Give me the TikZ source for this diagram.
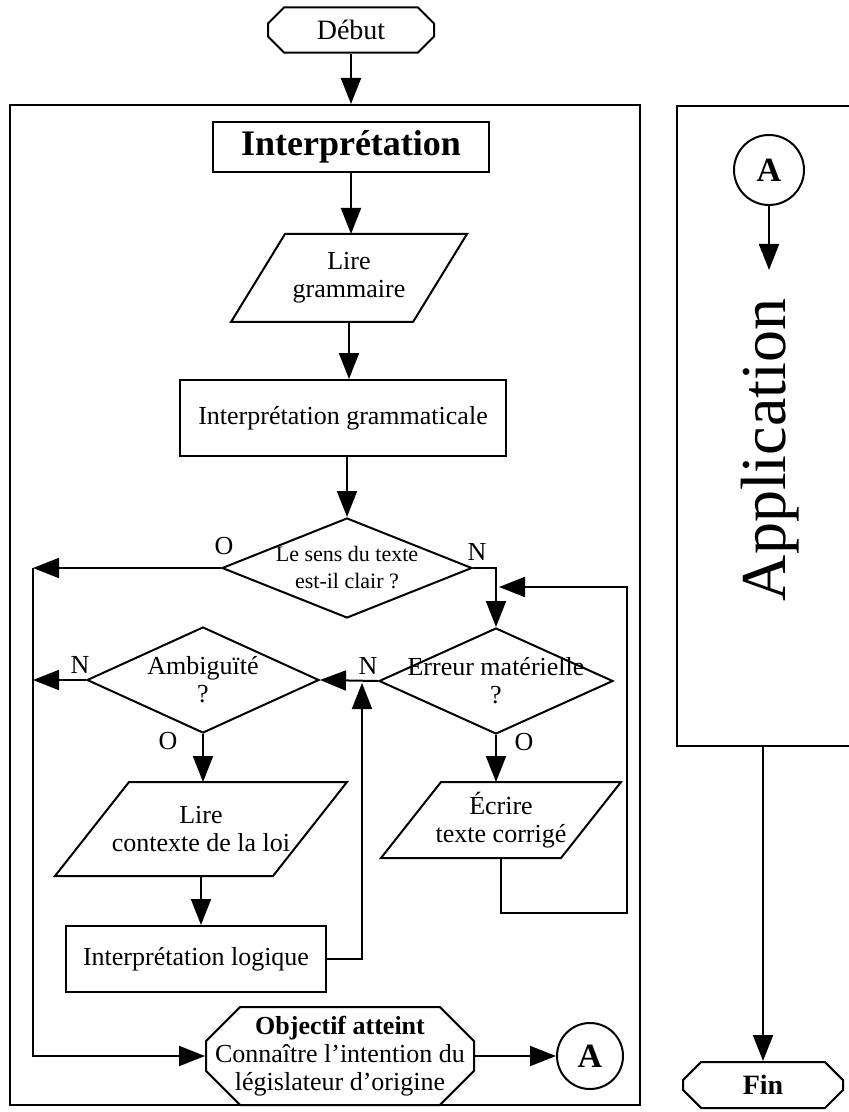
\documentclass[tikz,border=0pt]{standalone}
\usepackage{fontspec}
\setmainfont{Liberation Serif}
\usetikzlibrary{arrows.meta,shapes.geometric,shapes.misc}

\begin{document}
\begin{tikzpicture}[x=0.5pt, y=-0.5pt, line width=1pt,
		every node/.style={font=\fontsize{13}{14}\selectfont},
		fl/.style={-{Triangle[length=13pt,width=10pt]}},
		boite/.style={draw, rectangle, align=center},
		losange/.style={draw, diamond, aspect=2.3, inner sep=-4pt, align=center},
		terminal/.style={draw, chamfered rectangle, align=center},
		lecture/.style={rectangle, align=center},
		connecteur/.style={draw, circle, minimum size=33pt, inner sep=0pt, font=\fontsize{17}{17}\selectfont\bfseries}]

		\useasboundingbox (0,0) rectangle (848,1112);

		\node (cg) at (325,605) [draw, minimum width=315pt, minimum height=500pt] {};
		\node (cd) at (790,426) [draw, minimum width=113pt, minimum height=320pt] {};

		\node (db) at (351,30) [terminal, minimum width=83pt, minimum height=22pt, chamfered rectangle xsep=5pt, font=\fontsize{14}{14}\selectfont] {Début};
		\node (it) at (351,147) [boite, minimum width=138pt, minimum height=25pt, font=\fontsize{18}{18}\selectfont\bfseries] {Interprétation};
		\node (lg) at (349,278) [lecture, minimum width=90pt, minimum height=43pt] {Lire\\grammaire};
		\node (ig) at (343,418) [boite, minimum width=163pt, minimum height=38pt] {Interprétation grammaticale};
		\node (sc) at (347,568) [losange, minimum width=125pt, minimum height=50pt, font=\fontsize{11}{13.5}\selectfont] {Le sens du texte\\est-il clair ?};
		\node (em) at (496,681) [losange, minimum width=117pt, minimum height=53pt] {Erreur matérielle\\?};
		\node (am) at (203,680) [losange, minimum width=116pt, minimum height=53pt] {Ambiguïté\\?};
		\node (lc) at (201,829) [lecture, minimum width=108pt, minimum height=46pt] {Lire\\contexte de la loi};
		\node (ec) at (501,820) [lecture, minimum width=89pt, minimum height=37pt] {Écrire\\texte corrigé};
		\node (il) at (196,959) [boite, minimum width=130pt, minimum height=33pt] {Interprétation logique};
		\node (oa) at (340,1056) [terminal, minimum width=134pt, minimum height=49pt, inner xsep=-12pt, inner ysep=0pt, chamfered rectangle xsep=14pt] {\textbf{Objectif atteint}\\Connaître l’intention du\\législateur d’origine};
		\node (ca) at (590,1056) [connecteur] {A};
		\node (cb) at (769,170) [connecteur, minimum size=35pt] {A};
		\node (ap) at (770,450) [rotate=90, font=\fontsize{32}{32}\selectfont] {Application};
		\node (fn) at (763,1085) [terminal, minimum width=80pt, minimum height=23pt, chamfered rectangle xsep=6pt, font=\fontsize{14}{14}\selectfont\bfseries] {Fin};

		\foreach \n/\s in {lg/13.5pt, lc/18.5pt, ec/15pt}
		    \draw ([xshift=\s]\n.north west) -- ([xshift=\s]\n.north east) -- ([xshift=-\s]\n.south east) -- ([xshift=-\s]\n.south west) -- cycle;

		\node (o1) at (224,546) {O};
		\node (n1) at (477,552) {N};
		\node (n2) at (368,666) {N};
		\node (n3) at (80,665) {N};
		\node (o2) at (168,741) {O};
		\node (o3) at (524,742) {O};

		\coordinate (gh) at (33,568);
		\coordinate (jm) at (362,683);
		\coordinate (rb) at (627,913);
		\coordinate (rh) at (499,587);
		\coordinate (cbb) at (769,270);

		\draw [fl] (db.south) -- (db.south |- cg.north);
		\draw [fl] (it.south) -- (it.south |- lg.north);
		\draw [fl] (lg.south) -- (lg.south |- ig.north);
		\draw [fl] (sc.north |- ig.south) -- (sc.north);
		\draw [fl] (sc.west) -- (gh);
		\draw [fl] (gh) |- (oa.west);
		\draw [fl] (sc.east) -| (em.north);
		\draw [fl] (em.west) -- (am.east);
		\draw [fl] (am.west) -- (am.west -| gh);
		\draw [fl] (am.south) -- (am.south |- lc.north);
		\draw [fl] (em.south) -- (em.south |- ec.north);
		\draw [fl] (lc.south) -- (lc.south |- il.north);
		\draw [fl] (il.east) -| (jm);
		\draw [fl] (ec.south) |- (rb) |- (rh);
		\draw [fl] (oa.east) -- (oa.east -| ca.west);
		\draw [fl] (cb) -- (cbb);
		\draw [fl] (fn.north |- cd.south) -- (fn.north);
	\end{tikzpicture}
\end{document}
